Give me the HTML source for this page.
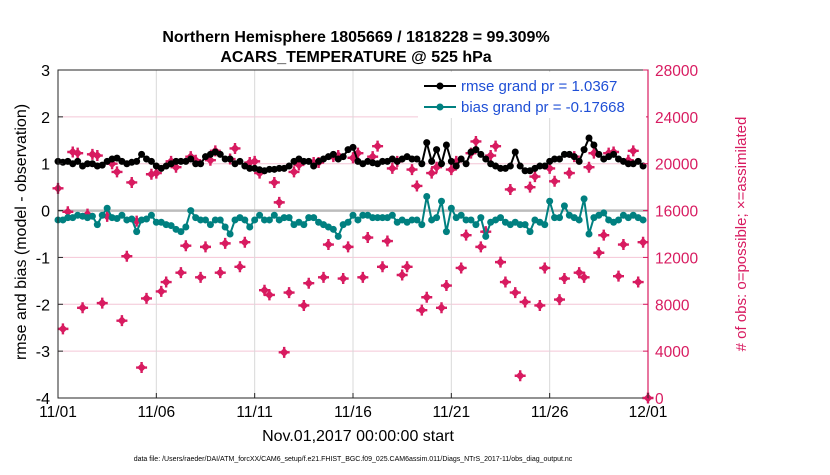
<!DOCTYPE html>
<html><head><meta charset="utf-8"><style>
body{margin:0;background:#fff;}
svg text{font-family:"Liberation Sans",sans-serif;}
</style></head><body>
<svg id="chart" width="830" height="470" xmlns="http://www.w3.org/2000/svg">
<text x="356" y="42" text-anchor="middle" font-size="16" font-weight="bold">Northern Hemisphere 1805669 / 1818228 = 99.309%</text>
<text x="356" y="62" text-anchor="middle" font-size="16" font-weight="bold">ACARS_TEMPERATURE @ 525 hPa</text>
<rect x="58" y="70" width="590" height="328" fill="#fff"/>
<g id="grid"></g>
<g id="series"></g>
<rect x="58" y="70" width="590" height="328" fill="none" stroke="#262626" stroke-width="1"/>
<g id="axes"></g>
<text transform="translate(26,232) rotate(-90)" text-anchor="middle" font-size="16">rmse and bias (model - observation)</text>
<text transform="translate(746,234) rotate(-90)" text-anchor="middle" font-size="15" fill="#d81b60"># of obs: o=possible; ×=assimilated</text>
<text x="358" y="441" text-anchor="middle" font-size="16">Nov.01,2017 00:00:00 start</text>
<text x="353" y="461" text-anchor="middle" font-size="7">data file: /Users/raeder/DAI/ATM_forcXX/CAM6_setup/f.e21.FHIST_BGC.f09_025.CAM6assim.011/Diags_NTrS_2017-11/obs_diag_output.nc</text>
<g>
<rect x="418" y="72" width="228" height="46" fill="#fff"/>
<g>
<line x1="424" y1="86" x2="456" y2="86" stroke="#000" stroke-width="2"/><circle cx="440" cy="86" r="3.5" fill="#000"/>
<text x="461" y="91" font-size="15" fill="#1f4fd6">rmse grand pr = 1.0367</text></g>
<g>
<line x1="424" y1="107" x2="456" y2="107" stroke="#008080" stroke-width="2"/><circle cx="440" cy="107" r="3.5" fill="#008080"/>
<text x="461" y="112" font-size="15" fill="#1f4fd6">bias grand pr = -0.17668</text></g>
</g>
</svg>
<script>
const xTickLabels=["11/01","11/06","11/11","11/16","11/21","11/26","12/01"];
const xTickDays=[0,5,10,15,20,25,30];
const leftTicks=[3,2,1,0,-1,-2,-3,-4];
const rightTicks=[28000,24000,20000,16000,12000,8000,4000,0];
const rmse=[1.05,1.03,1.05,1.0,1.05,0.95,1.0,1.0,0.95,0.97,
1.05,1.1,1.12,1.05,1.0,1.03,1.05,1.2,1.1,1.05,
0.95,0.9,0.95,1.0,1.05,1.05,1.05,1.1,1.0,1.0,
1.15,1.2,1.25,1.2,1.1,1.1,1.0,1.05,0.95,0.9,
0.9,0.87,0.85,0.88,0.88,0.9,0.9,0.95,1.05,1.1,
1.05,1.05,0.95,1.05,1.1,1.15,1.2,1.1,1.15,1.3,
1.35,1.05,1.0,1.05,1.02,1.0,1.05,1.05,1.1,1.05,
1.1,1.15,1.1,1.1,1.0,1.45,1.05,1.3,1.0,1.4,
1.05,0.95,1.1,1.0,1.25,1.3,1.2,1.1,1.0,0.95,
0.9,0.9,0.95,1.25,0.95,0.85,0.85,0.9,0.95,0.95,
1.05,1.1,1.1,1.2,1.2,1.15,1.05,1.3,1.55,1.4,
1.2,1.1,1.15,1.2,1.1,1.05,1.0,1.0,1.05,0.95];
const bias=[-0.2,-0.2,-0.15,-0.15,-0.1,-0.12,-0.15,-0.12,-0.3,-0.1,
0.05,-0.15,-0.17,-0.1,-0.2,-0.18,-0.45,-0.2,-0.18,-0.1,
-0.25,-0.25,-0.3,-0.32,-0.4,-0.45,-0.35,0.0,-0.15,-0.2,
-0.2,-0.3,-0.2,-0.2,-0.35,-0.5,-0.2,-0.15,-0.2,-0.35,
-0.2,-0.1,-0.2,-0.2,-0.1,-0.2,-0.15,-0.15,-0.3,-0.25,
-0.3,-0.15,-0.15,-0.25,-0.3,-0.35,-0.4,-0.55,-0.3,-0.25,
-0.1,-0.2,-0.1,-0.1,-0.15,-0.15,-0.15,-0.15,-0.1,-0.25,
-0.2,-0.25,-0.2,-0.2,-0.3,0.3,-0.2,-0.15,0.2,-0.45,
0.05,-0.15,-0.1,-0.2,-0.2,-0.3,-0.15,-0.55,-0.25,-0.2,
-0.15,-0.25,-0.3,-0.25,-0.3,-0.3,-0.45,-0.2,-0.25,-0.3,
0.2,-0.15,-0.15,0.1,-0.1,-0.15,-0.2,0.25,-0.5,-0.15,
-0.1,-0.05,-0.2,-0.25,-0.2,-0.1,-0.15,-0.1,-0.15,-0.2];
const obsCount=[17900,5900,15900,21000,20900,7700,15700,20800,20700,8100,
15500,20000,19300,6600,12100,18400,15100,2600,8500,19100,
19200,9100,9900,20200,19700,10700,13000,20600,20300,10300,
12900,20300,21100,10700,13200,20400,21300,11200,13300,20100,
20200,19200,9200,8800,18400,16700,3900,9000,19300,19900,
7900,9800,20100,20100,10300,13100,20600,20700,10200,12900,
20500,20900,10300,13700,20600,21500,11200,13400,19600,20200,
10500,11200,19500,18100,7500,8600,19200,19700,7700,9600,
19500,20200,11100,13900,20900,21900,12900,14200,20700,21500,
11600,9900,17800,9000,1900,8200,18000,18900,7900,11100,
19600,18500,8400,10200,19200,20600,10700,10300,19700,20900,
12400,13900,20900,21000,10400,13100,20300,21100,9900,13300,0];

const NS="http://www.w3.org/2000/svg";
const X0=58,X1=648,Y0=70,Y1=398;
const xs=d=>X0+(d/30)*(X1-X0);
const yL=v=>Y1-(v+4)/7*(Y1-Y0);
const yR=c=>Y1-c/28000*(Y1-Y0);
function mk(tag,attrs,parent){const e=document.createElementNS(NS,tag);for(const k in attrs)e.setAttribute(k,attrs[k]);parent.appendChild(e);return e;}
const grid=document.getElementById('grid'),ser=document.getElementById('series'),axes=document.getElementById('axes');

rightTicks.forEach(c=>{if(c===0||c===28000)return;
 const l=mk('line',{x1:X0,x2:X1,y1:yR(c),y2:yR(c),stroke:'#f4c6d6','stroke-width':1},grid);
 
 });
xTickDays.forEach(d=>{if(d===0||d===30)return;
 const l=mk('line',{x1:xs(d),x2:xs(d),y1:Y0,y2:Y1,stroke:'#d9d9d9','stroke-width':1},grid);
 
 });
const z=mk('line',{x1:X0,x2:X1,y1:yL(0),y2:yL(0),stroke:'#bdbdbd','stroke-width':2.5},grid);



obsCount.forEach((c,i)=>{const cx=xs(i/4),cy=yR(c);
 const g=mk('g',{},ser);
 
 
 mk('path',{d:`M${cx},${cy-4.5}L${cx+4.5},${cy}L${cx},${cy+4.5}L${cx-4.5},${cy}Z`,fill:'#d81b60'},g);
 mk('path',{d:`M${cx-5.5},${cy}H${cx+5.5}M${cx},${cy-5.5}V${cy+5.5}`,stroke:'#d81b60','stroke-width':2.4},g);});

function line(vals,color,name){
 const p=mk('polyline',{points:vals.map((v,i)=>xs(i/4)+','+yL(v)).join(' '),fill:'none',stroke:color,'stroke-width':2},ser);
 
 
 vals.forEach((v,i)=>{const c=mk('circle',{cx:xs(i/4),cy:yL(v),r:3.5,fill:color},ser);
  
  });}
line(bias,'#008080','bias');
line(rmse,'#000000','rmse');

leftTicks.forEach(v=>{const y=yL(v);
 mk('line',{x1:X0,x2:X0+5,y1:y,y2:y,stroke:'#262626'},axes);
 const t=mk('text',{x:X0-8,y:y+6,'text-anchor':'end','font-size':16},axes);t.textContent=v;
 
 });
rightTicks.forEach(c=>{const y=yR(c);
 mk('line',{x1:X1-5,x2:X1,y1:y,y2:y,stroke:'#d81b60'},axes);
 const t=mk('text',{x:X1+7,y:y+6,'font-size':15.5,fill:'#d81b60'},axes);t.textContent=c;
 
 });
mk('line',{x1:X1,x2:X1,y1:Y0,y2:Y1,stroke:'#d81b60','stroke-width':1.2},axes);
xTickDays.forEach((d,i)=>{const x=xs(d);
 mk('line',{x1:x,x2:x,y1:Y1,y2:Y1-5,stroke:'#262626'},axes);
 const t=mk('text',{x:x,y:Y1+19,'text-anchor':'middle','font-size':15.5},axes);t.textContent=xTickLabels[i];
 
 });
</script>
</body></html>
